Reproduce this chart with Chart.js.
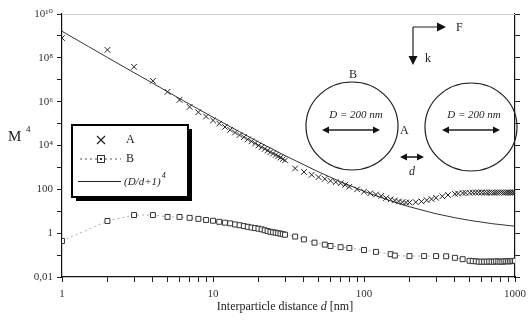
<!DOCTYPE html>
<html>
<head>
<meta charset="utf-8">
<script src="https://cdn.jsdelivr.net/npm/chart.js@4.4.1/dist/chart.umd.min.js"></script>
<style>
  html, body { margin: 0; padding: 0; background: #fff; }
  #wrap { width: 532px; height: 326px; }
</style>
</head>
<body>
<div id="wrap"><canvas id="c" width="532" height="326"></canvas></div>
<script>
// values
let aDist = [1, 2, 3, 4, 5, 6, 7, 8, 9, 10, 11, 12, 13, 14, 15, 16, 17, 18, 19, 20,
  21, 22, 23, 24, 25, 26, 27, 28, 29, 30, 35, 40, 45, 50, 55, 60, 65, 70, 75, 80,
  90, 100, 110, 120, 130, 140, 150, 160, 170, 180, 190, 200, 220, 240, 260, 280, 300,
  330, 360, 400, 420, 450, 470, 500, 525, 550, 575, 600, 625, 650, 675, 700, 725, 750,
  775, 800, 825, 850, 875, 900, 925, 950, 975, 1000];
let aVal = [8e8, 2.3e8, 3.9e7, 8.9e6, 2.8e6, 1.2e6, 5.8e5, 3.3e5, 2.1e5, 1.4e5, 1.0e5, 7.0e4,
  5.2e4, 3.9e4, 3.0e4, 2.4e4, 1.9e4, 1.55e4, 1.25e4, 1.0e4,
  8400, 7000, 5900, 5000, 4300, 3700, 3200, 2800, 2400, 2100, 900, 620, 460, 360, 300, 245, 215, 190, 160, 130,
  100, 78, 66, 58, 50, 40, 35, 31, 28, 26, 25, 25, 26, 28, 32, 36, 41,
  48, 55, 62, 64, 68, 69, 70, 71, 72, 72, 72, 71, 70, 72, 72, 70, 71,
  72, 72, 71, 70, 72, 72, 71, 71, 72, 72];

let bDist = [1, 2, 3, 4, 5, 6, 7, 8, 9, 10, 11, 12, 13, 14, 15, 16, 17, 18, 19, 20,
  21, 22, 23, 24, 25, 26, 27, 28, 29, 30, 35, 40, 47, 55, 60, 70, 80, 100, 120, 150,
  160, 200, 250, 300, 350, 400, 450, 500, 525, 550, 575, 600, 625, 650, 675, 700, 725, 750,
  775, 800, 825, 850, 875, 900, 925, 950, 975, 1000];
let bVal = [0.44, 3.6, 6.7, 6.7, 5.5, 5.5, 5.0, 4.5, 4.0, 3.7, 3.3, 3.0, 2.8, 2.5, 2.3, 2.1, 1.95, 1.8, 1.7, 1.6,
  1.5, 1.35, 1.25, 1.15, 1.1, 1.05, 1.0, 0.95, 0.9, 0.85, 0.7, 0.52, 0.37, 0.3, 0.26, 0.23, 0.21, 0.17, 0.14, 0.11,
  0.095, 0.09, 0.09, 0.09, 0.088, 0.075, 0.065, 0.055, 0.053, 0.052, 0.05, 0.05, 0.05, 0.05, 0.051, 0.05, 0.05, 0.052,
  0.051, 0.05, 0.05, 0.052, 0.052, 0.052, 0.052, 0.053, 0.054, 0.055];

let fitDist = [1, 1.5, 2, 3, 4, 5, 7, 10, 15, 20, 30, 50, 70, 100, 150, 200, 300, 400, 500, 700, 1000];
let fitVal = [1.63e9, 3.26e8, 1.04e8, 2.1e7, 6.9e6, 2.83e6, 7.65e5, 1.94e5, 4.22e4, 1.46e4, 3456,
  625, 221, 81, 29.6, 16, 7.7, 5.06, 3.84, 2.73, 2.07];

let seriesNames = ["A", "B", "(D/d+1)"];
let yExps = [-2, -1, 0, 1, 2, 3, 4, 5, 6, 7, 8, 9, 10];
let yLabels = {"-2": "0,01", "0": "1", "2": "100", "4": "10⁴", "6": "10⁶", "8": "10⁸", "10": "10¹⁰"};
let xTicks = [1, 2, 3, 4, 5, 6, 7, 8, 9, 10, 20, 30, 40, 50, 60, 70, 80, 90,
  100, 200, 300, 400, 500, 600, 700, 800, 900, 1000];
let xLabels = [1, 10, 100, 1000];

const SERIF = "'Liberation Serif', 'DejaVu Serif', serif";

function pts(xs, ys) { return xs.map((x, i) => ({x: x, y: ys[i]})); }

function arrowHead(ctx, x, y, dir, s) {
  // dir: angle in radians the arrow points to
  ctx.beginPath();
  ctx.moveTo(x, y);
  ctx.lineTo(x - s * Math.cos(dir) + s * 0.5 * Math.sin(dir), y - s * Math.sin(dir) - s * 0.5 * Math.cos(dir));
  ctx.lineTo(x - s * Math.cos(dir) - s * 0.5 * Math.sin(dir), y - s * Math.sin(dir) + s * 0.5 * Math.cos(dir));
  ctx.closePath();
  ctx.fill();
}

function dblArrow(ctx, x1, x2, y) {
  ctx.beginPath();
  ctx.moveTo(x1 + 3, y); ctx.lineTo(x2 - 3, y);
  ctx.stroke();
  arrowHead(ctx, x2, y, 0, 7);
  arrowHead(ctx, x1, y, Math.PI, 7);
}

const extras = {
  id: "extras",
  afterDraw(chart) {
    const ctx = chart.ctx;
    const a = chart.chartArea;
    ctx.save();
    // top border
    ctx.strokeStyle = "#d0d0d0";
    ctx.lineWidth = 1;
    ctx.beginPath();
    ctx.moveTo(a.left, a.top + 0.5); ctx.lineTo(a.right, a.top + 0.5);
    ctx.stroke();

    // y label
    ctx.fillStyle = "#222";
    ctx.textBaseline = "middle";
    ctx.textAlign = "left";
    ctx.font = "15px " + SERIF;
    ctx.fillText("M", 8, 137);
    ctx.font = "9px " + SERIF;
    ctx.fillText("4", 26, 130);

    // x label
    ctx.font = "12px " + SERIF;
    let t1 = "Interparticle distance ", t3 = " [nm]";
    let w1 = ctx.measureText(t1).width, w3 = ctx.measureText(t3).width;
    ctx.font = "italic 12px " + SERIF;
    let w2 = ctx.measureText("d").width;
    let x0 = 285 - (w1 + w2 + w3) / 2;
    ctx.font = "12px " + SERIF;
    ctx.fillText(t1, x0, 307);
    ctx.font = "italic 12px " + SERIF;
    ctx.fillText("d", x0 + w1, 307);
    ctx.font = "12px " + SERIF;
    ctx.fillText(t3, x0 + w1 + w2, 307);

    // legend
    const lx = 72, ly = 125, lw = 116, lh = 72;
    ctx.fillStyle = "#000";
    ctx.fillRect(lx + 4, ly + 4, lw, lh);
    ctx.fillStyle = "#fff";
    ctx.fillRect(lx, ly, lw, lh);
    ctx.strokeStyle = "#000";
    ctx.lineWidth = 2;
    ctx.strokeRect(lx, ly, lw, lh);

    ctx.lineWidth = 1.2;
    ctx.strokeStyle = "#222";
    // A
    ctx.beginPath();
    ctx.moveTo(97, 136); ctx.lineTo(105, 144);
    ctx.moveTo(105, 136); ctx.lineTo(97, 144);
    ctx.stroke();
    // B
    ctx.setLineDash([2, 3]);
    ctx.strokeStyle = "#555";
    ctx.beginPath();
    ctx.moveTo(80, 159); ctx.lineTo(121, 159);
    ctx.stroke();
    ctx.setLineDash([]);
    ctx.fillStyle = "#fff";
    ctx.fillRect(97, 155, 8, 8);
    ctx.strokeStyle = "#333";
    ctx.lineWidth = 1;
    ctx.strokeRect(97.5, 155.5, 7, 7);
    ctx.fillStyle = "#333";
    ctx.fillRect(100, 158, 2, 2);
    // line
    ctx.strokeStyle = "#222";
    ctx.beginPath();
    ctx.moveTo(78, 181.5); ctx.lineTo(121, 181.5);
    ctx.stroke();

    ctx.fillStyle = "#222";
    ctx.font = "12px " + SERIF;
    ctx.fillText(seriesNames[0], 126, 140);
    ctx.fillText(seriesNames[1], 126, 159);
    ctx.font = "italic 11px " + SERIF;
    ctx.fillText(seriesNames[2], 124, 182);
    let wf = ctx.measureText(seriesNames[2]).width;
    ctx.font = "italic 8px " + SERIF;
    ctx.fillText("4", 124 + wf + 1, 176);

    // sketch of the two spheres
    ctx.strokeStyle = "#222";
    ctx.fillStyle = "#111";
    ctx.lineWidth = 1.2;
    ctx.beginPath();
    ctx.ellipse(352, 126, 46, 44, 0, 0, Math.PI * 2);
    ctx.stroke();
    ctx.beginPath();
    ctx.ellipse(471, 127, 46, 44, 0, 0, Math.PI * 2);
    ctx.stroke();
    ctx.lineWidth = 1.6;
    dblArrow(ctx, 322, 380, 130);
    dblArrow(ctx, 442, 500, 130);
    dblArrow(ctx, 400, 424, 157);

    // F and k
    ctx.lineWidth = 1.2;
    ctx.beginPath();
    ctx.moveTo(413, 27); ctx.lineTo(440, 27);
    ctx.moveTo(413, 27); ctx.lineTo(413, 58);
    ctx.stroke();
    arrowHead(ctx, 446, 27, 0, 9);
    arrowHead(ctx, 413, 65, Math.PI / 2, 9);

    ctx.fillStyle = "#222";
    ctx.font = "12px " + SERIF;
    ctx.fillText("F", 456, 28);
    ctx.fillText("k", 425, 59);
    ctx.fillText("B", 349, 75);
    ctx.fillText("A", 400, 131);
    ctx.font = "italic 12px " + SERIF;
    ctx.fillText("d", 409, 172);
    ctx.font = "italic 11px " + SERIF;
    ctx.textAlign = "center";
    ctx.fillText("D = 200 nm", 356, 115);
    ctx.fillText("D = 200 nm", 474, 115);
    ctx.restore();
  }
};

function decadeTicks(s) {
  s.ticks = yExps.map(e => ({value: Math.pow(10, e)}));
}

new Chart(document.getElementById("c"), {
  type: "scatter",
  data: {
    datasets: [
      {
        label: seriesNames[0],
        data: pts(aDist, aVal),
        showLine: false,
        pointStyle: "crossRot",
        pointRadius: 4,
        borderColor: "#222",
        borderWidth: 1,
        order: 1
      },
      {
        label: seriesNames[1],
        data: pts(bDist, bVal),
        showLine: true,
        borderColor: "#333",
        backgroundColor: "#fff",
        pointStyle: "rect",
        pointRadius: 3.5,
        pointBorderWidth: 1,
        borderWidth: 1,
        segment: { borderColor: "#aaa", borderDash: [2, 3] },
        order: 2
      },
      {
        label: seriesNames[2],
        data: pts(fitDist, fitVal),
        showLine: true,
        borderColor: "#333",
        borderWidth: 1,
        pointRadius: 0,
        order: 3
      }
    ]
  },
  options: {
    responsive: false,
    animation: false,
    layout: { padding: { top: 14, right: 0, left: 0, bottom: 0 } },
    plugins: { legend: { display: false }, tooltip: { enabled: false } },
    scales: {
      x: {
        type: "logarithmic",
        min: 1, max: 1000,
        afterBuildTicks: s => { s.ticks = xTicks.map(v => ({value: v})); },
        afterFit: s => { s.height = 49; },
        ticks: {
          autoSkip: false, maxRotation: 0, padding: 6,
          color: "#333",
          font: { family: SERIF, size: 11 },
          callback: v => xLabels.includes(v) ? String(v) : ""
        },
        grid: { drawOnChartArea: false, tickLength: 5, color: "#222" },
        border: { color: "#111", width: 1.2 }
      },
      y: {
        type: "logarithmic",
        min: 0.01, max: 1e10,
        afterBuildTicks: decadeTicks,
        afterFit: s => { s.width = 62; },
        ticks: {
          autoSkip: false, padding: 4,
          color: "#333",
          font: { family: SERIF, size: 11 },
          callback: v => {
            let e = Math.round(Math.log10(v));
            return yLabels[e] !== undefined ? yLabels[e] : "";
          }
        },
        grid: { drawOnChartArea: false, tickLength: 5, color: "#222" },
        border: { color: "#111", width: 1.2 }
      },
      y2: {
        type: "logarithmic",
        position: "right",
        min: 0.01, max: 1e10,
        afterBuildTicks: decadeTicks,
        afterFit: s => { s.width = 12; },
        ticks: { display: false },
        grid: { drawOnChartArea: false, tickLength: 5, color: "#222" },
        border: { color: "#111", width: 1.2 }
      }
    }
  },
  plugins: [extras]
});
</script>
</body>
</html>
